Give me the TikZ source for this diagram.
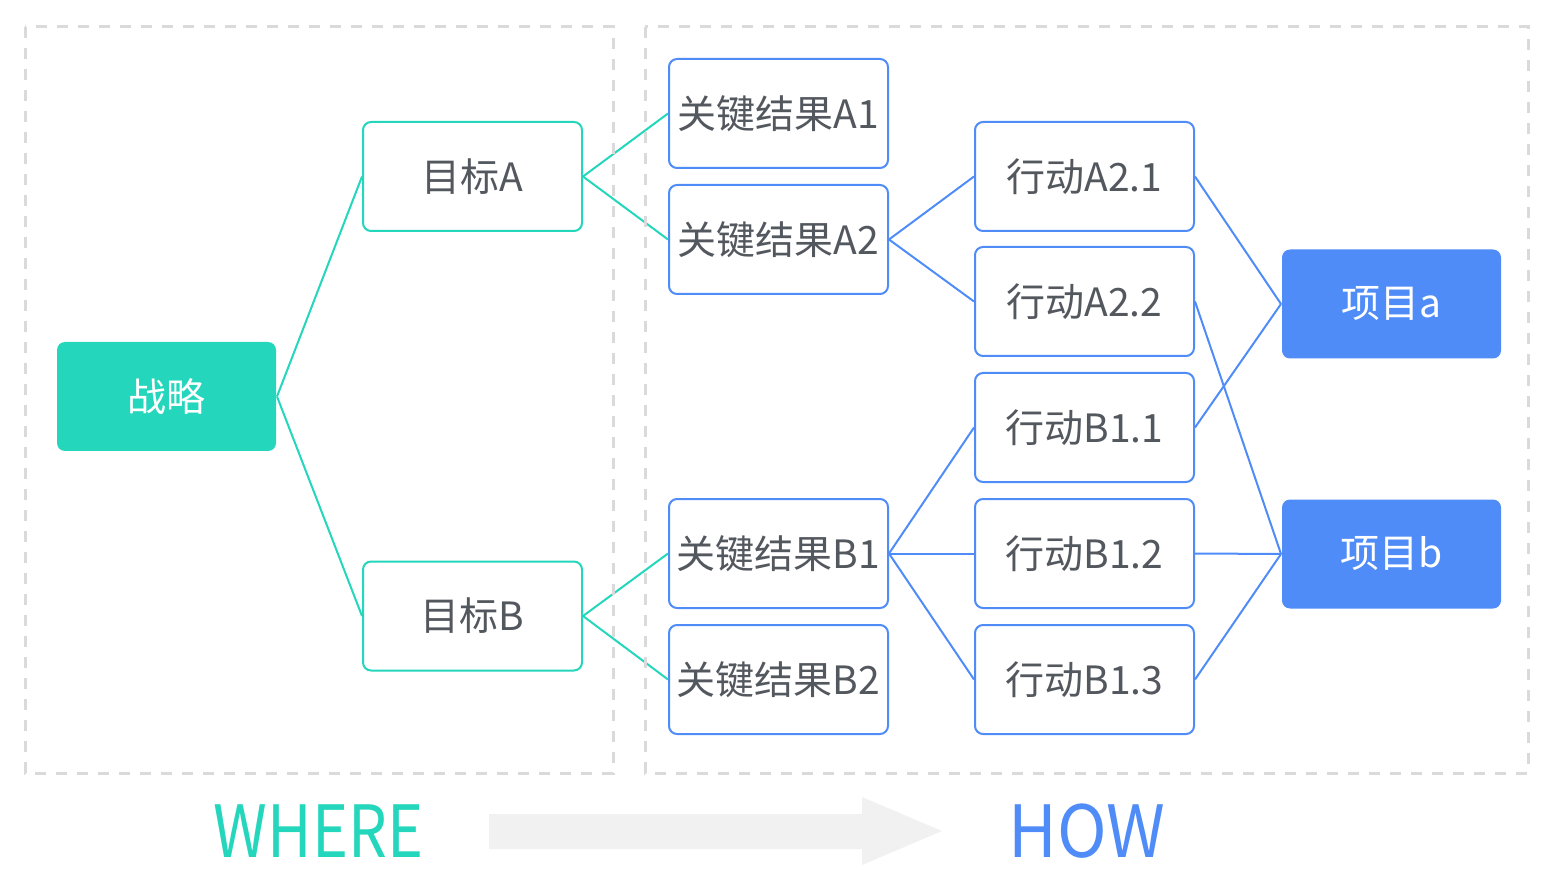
\documentclass[tikz,border=0pt]{standalone}
\usepackage{fontspec}
\setmainfont{Noto Sans CJK SC}
\definecolor{teal}{HTML}{24D6BC}
\definecolor{blueac}{HTML}{4F8CF8}
\definecolor{txt}{HTML}{53575E}
\definecolor{dashgray}{HTML}{DADADA}
\definecolor{arrowgray}{HTML}{F1F1F1}
\tikzset{
  box/.style={rectangle, rounded corners=8pt, minimum width=219pt, minimum height=109pt,
    inner sep=0pt, line width=2pt, fill=white, text=txt, font=\fontsize{39}{42}\selectfont},
  goalbox/.style={box, draw=teal},
  krbox/.style={box, draw=blueac},
  rootbox/.style={box, fill=teal, text=white},
  projbox/.style={box, fill=blueac, text=white},
  tealline/.style={draw=teal, line width=2pt},
  blueline/.style={draw=blueac, line width=2pt},
  frame/.style={draw=dashgray, line width=3pt, dash pattern=on 11pt off 10pt},
}
\begin{document}
\begin{tikzpicture}[x=1pt,y=-1pt]
\useasboundingbox (0,0) rectangle (1556,882);

% strategy and goals
\node[rootbox] (root) at (166.5,396.5) {战略};
\node[goalbox] (gA) at (472.5,176.5) {目标A};
\node[goalbox] (gB) at (472.5,616) {目标B};

% key results
\node[krbox] (kA1) at (778.5,113.5) {关键结果A1};
\node[krbox] (kA2) at (778.5,239.5) {关键结果A2};
\node[krbox] (kB1) at (778.5,553.5) {关键结果B1};
\node[krbox] (kB2) at (778.5,679.5) {关键结果B2};

% actions
\node[krbox] (a21) at (1084.5,176.5) {行动A2.1};
\node[krbox] (a22) at (1084.5,301.5) {行动A2.2};
\node[krbox] (b11) at (1084.5,427.5) {行动B1.1};
\node[krbox] (b12) at (1084.5,553.5) {行动B1.2};
\node[krbox] (b13) at (1084.5,679.5) {行动B1.3};

% projects
\node[projbox] (pa) at (1391.5,304) {项目a};
\node[projbox] (pb) at (1391.5,554) {项目b};

% connectors
\draw[tealline] (root.east) -- (gA.west);
\draw[tealline] (root.east) -- (gB.west);
\draw[tealline] (gA.east) -- (kA1.west);
\draw[tealline] (gA.east) -- (kA2.west);
\draw[tealline] (gB.east) -- (kB1.west);
\draw[tealline] (gB.east) -- (kB2.west);
\draw[blueline] (kA2.east) -- (a21.west);
\draw[blueline] (kA2.east) -- (a22.west);
\draw[blueline] (kB1.east) -- (b11.west);
\draw[blueline] (kB1.east) -- (b12.west);
\draw[blueline] (kB1.east) -- (b13.west);
\draw[blueline] (a21.east) -- (pa.west);
\draw[blueline] (b11.east) -- (pa.west);
\draw[blueline] (a22.east) -- (pb.west);
\draw[blueline] (b12.east) -- (pb.west);
\draw[blueline] (b13.east) -- (pb.west);

% dashed regions
\draw[frame] (25,27) rectangle (613,773);
\draw[frame] (645,27) rectangle (1528,773);

% bottom legend
\node[text=teal, font=\fontsize{72}{76}\selectfont\addfontfeatures{FakeStretch=0.85}] (where) at (318.5,831) {WHERE};
\node[text=blueac, font=\fontsize{72}{76}\selectfont\addfontfeatures{FakeStretch=0.93}] (how) at (1087,831) {HOW};
\fill[arrowgray] (489,814) -- (862,814) -- (862,797) -- (942,831) -- (862,865) -- (862,849) -- (489,849) -- cycle;
\end{tikzpicture}
\end{document}
